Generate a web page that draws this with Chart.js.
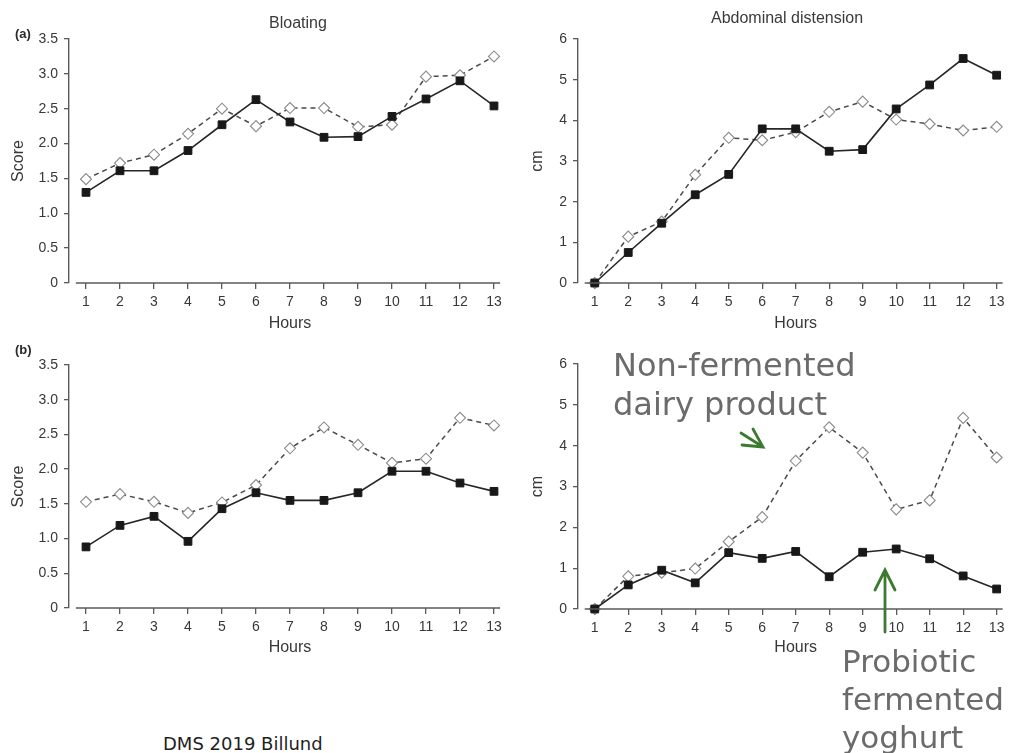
<!DOCTYPE html>
<html>
<head>
<meta charset="utf-8">
<script src="https://cdn.jsdelivr.net/npm/chart.js@4/dist/chart.umd.min.js"></script>
<style>
  html, body { margin: 0; padding: 0; background: #fff; overflow: hidden; width: 1013px; height: 753px; }
  canvas { position: absolute; }
  .lbl { position: absolute; white-space: nowrap; }
  .panel-title { font-family: "Liberation Sans", Arial, sans-serif; font-size: 16px; line-height: 16px; color: #3a3a3a; transform: translateX(-50%); }
  .panel-tag { font-family: "Liberation Sans", Arial, sans-serif; font-size: 13px; line-height: 13px; font-weight: bold; color: #2a2a2a; }
  .note { font-family: "DejaVu Sans", Verdana, sans-serif; font-size: 31px; color: #6b6b6b; }
  .footer { font-family: "DejaVu Sans", Verdana, sans-serif; font-size: 18px; line-height: 18px; color: #1e1e1e; }
  svg { position: absolute; left: 0; top: 0; pointer-events: none; }
</style>
</head>
<body>
<canvas id="bloatA" width="520" height="340" style="left:0;top:0"></canvas>
<canvas id="distA" width="510" height="340" style="left:510px;top:0"></canvas>
<canvas id="bloatB" width="520" height="340" style="left:0;top:330px"></canvas>
<canvas id="distB" width="510" height="340" style="left:510px;top:330px"></canvas>

<div class="lbl panel-tag" style="left:15px;top:27px">(a)</div>
<div class="lbl panel-tag" style="left:15px;top:343px">(b)</div>
<div class="lbl panel-title" style="left:298px;top:15px">Bloating</div>
<div class="lbl panel-title" style="left:787px;top:10px">Abdominal distension</div>

<div class="lbl note" style="left:613px;top:346px;line-height:39px;font-size:32px">Non-fermented<br>dairy product</div>
<div class="lbl note" style="left:842px;top:642px;line-height:38px">Probiotic<br>fermented<br>yoghurt</div>
<div class="lbl footer" style="left:163px;top:735px">DMS 2019 Billund</div>

<svg width="1013" height="753">
  <g stroke="#3b7a2f" stroke-width="2.8" fill="none" stroke-linecap="round">
    <path d="M741 433 L763 447 M742 445 L763 447 L753 429"/>
    <path d="M885 632 L885 570 M875 590 L885 570 L895 590"/>
  </g>
</svg>

<script>
// Hours after intake
const hours = [1, 2, 3, 4, 5, 6, 7, 8, 9, 10, 11, 12, 13];

// Bloating score, study (a)
const bloatA_probiotic = [1.30, 1.61, 1.61, 1.90, 2.27, 2.63, 2.31, 2.09, 2.10, 2.39, 2.64, 2.90, 2.54];
const bloatA_control   = [1.49, 1.72, 1.84, 2.14, 2.50, 2.25, 2.51, 2.51, 2.24, 2.27, 2.96, 2.98, 3.25];

// Abdominal distension (cm), study (a)
const distA_probiotic = [0, 0.75, 1.47, 2.17, 2.67, 3.79, 3.79, 3.24, 3.28, 4.28, 4.87, 5.52, 5.11];
const distA_control   = [0, 1.14, 1.51, 2.66, 3.57, 3.51, 3.71, 4.21, 4.46, 4.02, 3.91, 3.75, 3.84];

// Bloating score, study (b)
const bloatB_probiotic = [0.88, 1.19, 1.32, 0.96, 1.43, 1.66, 1.55, 1.55, 1.66, 1.97, 1.97, 1.80, 1.68];
const bloatB_control   = [1.53, 1.64, 1.53, 1.37, 1.52, 1.77, 2.30, 2.60, 2.35, 2.09, 2.15, 2.74, 2.63];

// Abdominal distension (cm), study (b)
const distB_probiotic = [0, 0.59, 0.95, 0.64, 1.38, 1.24, 1.41, 0.79, 1.39, 1.47, 1.23, 0.81, 0.49];
const distB_control   = [0, 0.80, 0.89, 0.99, 1.65, 2.25, 3.63, 4.45, 3.83, 2.44, 2.66, 4.68, 3.71];

// Axis tick values and labels
const scoreTicks = [0, 0.5, 1.0, 1.5, 2.0, 2.5, 3.0, 3.5];
const scoreTickLabels = ['0', '0.5', '1.0', '1.5', '2.0', '2.5', '3.0', '3.5'];
const cmTicks = [0, 1, 2, 3, 4, 5, 6];
const cmTickLabels = ['0', '1', '2', '3', '4', '5', '6'];

const AXIS_COLOR = '#5a5a5a';
const TEXT_COLOR = '#383838';
Chart.defaults.font.family = '"Liberation Sans", Arial, sans-serif';

// Detached x-axis line, R style: starts a little before hour 1, ends a little after hour 13
const xAxisLine = {
  id: 'xAxisLine',
  afterDatasetsDraw(chart) {
    const xs = chart.scales.x;
    const y = chart.chartArea.bottom;
    const ctx = chart.ctx;
    ctx.save();
    ctx.strokeStyle = AXIS_COLOR;
    ctx.lineWidth = 1.4;
    ctx.beginPath();
    ctx.moveTo(xs.getPixelForValue(0.7), y);
    ctx.lineTo(xs.getPixelForValue(13.18), y);
    ctx.stroke();
    ctx.restore();
  }
};

function pts(values) {
  return values.map((v, i) => ({ x: hours[i], y: v }));
}

function makePanel(id, geom, probiotic, control, yTicks, yLabels, yTitle) {
  const { canvasLeft, canvasTop, canvasW, canvasH, L, R, T, B, xBottom, yTitlePad } = geom;
  const yWidth = L - canvasLeft;
  const xHeight = xBottom - B;
  new Chart(document.getElementById(id), {
    type: 'line',
    data: {
      datasets: [
        {
          label: 'Probiotic fermented yoghurt',
          data: pts(probiotic),
          borderColor: '#262626',
          borderWidth: 1.6,
          pointStyle: 'rect',
          pointRadius: 5.5,
          pointBackgroundColor: '#181818',
          pointBorderColor: '#181818',
          pointBorderWidth: 1,
          tension: 0,
          clip: false
        },
        {
          label: 'Non-fermented dairy product',
          data: pts(control),
          borderColor: '#4a4a4a',
          borderWidth: 1.5,
          borderDash: [5, 4],
          pointStyle: 'rectRot',
          pointRadius: 5.5,
          pointBackgroundColor: '#ffffff',
          pointBorderColor: '#8a8a8a',
          pointBorderWidth: 1.1,
          tension: 0,
          clip: false
        }
      ]
    },
    options: {
      responsive: false,
      animation: false,
      devicePixelRatio: 1,
      layout: {
        padding: {
          left: 0,
          top: T - canvasTop,
          right: canvasLeft + canvasW - R,
          bottom: canvasTop + canvasH - xBottom
        }
      },
      plugins: { legend: { display: false }, tooltip: { enabled: false }, title: { display: false } },
      scales: {
        x: {
          type: 'linear',
          min: 0.5,
          max: 13.5,
          afterBuildTicks: s => { s.ticks = hours.map(v => ({ value: v })); },
          afterFit: s => { s.height = xHeight; },
          border: { display: false },
          grid: { display: true, drawOnChartArea: false, drawTicks: true, tickLength: 6, color: AXIS_COLOR, lineWidth: 1.3 },
          ticks: { color: TEXT_COLOR, font: { size: 14 }, padding: 5, maxRotation: 0, autoSkip: false },
          title: { display: true, text: 'Hours', color: TEXT_COLOR, font: { size: 16 }, padding: 0 }
        },
        y: {
          type: 'linear',
          min: yTicks[0],
          max: yTicks[yTicks.length - 1],
          afterBuildTicks: s => { s.ticks = yTicks.map(v => ({ value: v })); },
          afterFit: s => { s.width = yWidth; },
          border: { display: true, color: AXIS_COLOR, width: 1.4 },
          grid: { display: true, drawOnChartArea: false, drawTicks: true, tickLength: 5, color: AXIS_COLOR, lineWidth: 1.3 },
          ticks: {
            color: TEXT_COLOR, font: { size: 14 }, padding: 6, autoSkip: false,
            callback: v => yLabels[yTicks.indexOf(v)]
          },
          title: { display: true, text: yTitle, color: TEXT_COLOR, font: { size: 16 }, padding: { top: yTitlePad, bottom: 0 } }
        }
      }
    },
    plugins: [xAxisLine]
  });
}

makePanel('bloatA',
  { canvasLeft: 0, canvasTop: 0, canvasW: 520, canvasH: 340, L: 69, R: 511, T: 39, B: 283, xBottom: 333, yTitlePad: 9 },
  bloatA_probiotic, bloatA_control, scoreTicks, scoreTickLabels, 'Score');

makePanel('distA',
  { canvasLeft: 510, canvasTop: 0, canvasW: 510, canvasH: 340, L: 578, R: 1020, T: 39, B: 283, xBottom: 333, yTitlePad: 18 },
  distA_probiotic, distA_control, cmTicks, cmTickLabels, 'cm');

makePanel('bloatB',
  { canvasLeft: 0, canvasTop: 330, canvasW: 520, canvasH: 340, L: 69, R: 511, T: 365, B: 608, xBottom: 657, yTitlePad: 9 },
  bloatB_probiotic, bloatB_control, scoreTicks, scoreTickLabels, 'Score');

makePanel('distB',
  { canvasLeft: 510, canvasTop: 330, canvasW: 510, canvasH: 340, L: 578, R: 1020, T: 364, B: 609, xBottom: 657, yTitlePad: 18 },
  distB_probiotic, distB_control, cmTicks, cmTickLabels, 'cm');
</script>
</body>
</html>
